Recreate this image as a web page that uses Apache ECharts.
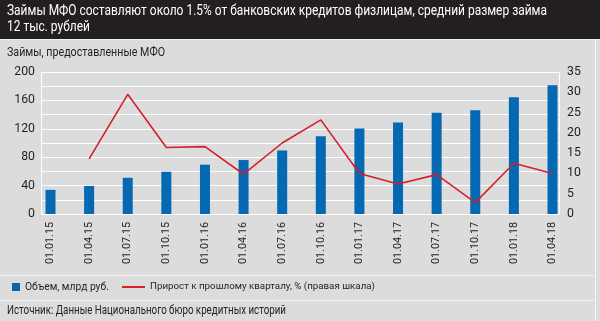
<!DOCTYPE html>
<html><head><meta charset="utf-8">
<script src="https://cdn.jsdelivr.net/npm/echarts@6/dist/echarts.min.js"></script>
<style>html,body{margin:0;padding:0;background:#dcdcdc;}#c{width:600px;height:321px;}</style>
</head><body><div id="c"></div>
<script>
const categories = ['01.01.15','01.04.15','01.07.15','01.10.15','01.01.16','01.04.16','01.07.16','01.10.16','01.01.17','01.04.17','01.07.17','01.10.17','01.01.18','01.04.18'];
const volume = [34, 39.5, 51, 59.5, 69.5, 76, 89.5, 109.5, 120.5, 129, 142.5, 146, 164.5, 181.5];
const growth = [null, 13.6, 29.5, 16.4, 16.6, 9.8, 17.5, 23.2, 10.0, 7.4, 9.7, 2.8, 12.5, 10.0];
const leftTicks = [0, 40, 80, 120, 160, 200];
const rightTicks = [0, 5, 10, 15, 20, 25, 30, 35];
const titleLine1 = 'Займы МФО составляют около 1.5% от банковских кредитов физлицам, средний размер займа';
const titleLine2 = '12 тыс. рублей';
const subtitleText = 'Займы, предоставленные МФО';
const sourceText = 'Источник: Данные Национального бюро кредитных историй';
const barName = 'Объем, млрд руб.';
const lineName = 'Прирост к прошлому кварталу, % (правая шкала)';

const FONT = "Roboto, 'Liberation Sans', sans-serif";
const TXT = '#231f20';
const mctx = document.createElement('canvas').getContext('2d');
function tw(text, size) { mctx.font = size + 'px ' + FONT; return mctx.measureText(text).width; }
const axisFs = +(13 * 42 / tw(categories[0], 13)).toFixed(2);
const legendFs1 = +(13 * 84 / tw(barName, 13)).toFixed(2);
const legendFs2 = +(13 * 225 / tw(lineName, 13)).toFixed(2);
const titleScale = 540 / tw(titleLine1, 14);
const subScale = 158 / tw(subtitleText, 13);
const srcScale = 279 / tw(sourceText, 13);

const chart = echarts.init(document.getElementById('c'), null, {renderer: 'canvas'});
const gTop = 72, gBottom = 321 - 214;
chart.setOption({
  backgroundColor: '#dcdcdc',
  animation: false,
  textStyle: {fontFamily: FONT},
  graphic: [
    {type: 'rect', shape: {x: 0, y: 0, width: 600, height: 39}, style: {fill: '#231f20'}, z: 0},
    {type: 'line', shape: {x1: 0, y1: 39.5, x2: 600, y2: 39.5}, style: {stroke: '#f2f2f2', lineWidth: 1}},
    {type: 'line', shape: {x1: 0, y1: 275.5, x2: 594, y2: 275.5}, style: {stroke: '#f4f4f4', lineWidth: 1}},
    {type: 'line', shape: {x1: 0, y1: 300.5, x2: 594, y2: 300.5}, style: {stroke: '#f4f4f4', lineWidth: 1}},
    {type: 'line', shape: {x1: 595.5, y1: 40, x2: 595.5, y2: 321}, style: {stroke: '#f4f4f4', lineWidth: 1}},
    {type: 'text', x: 7, y: 11, scaleX: titleScale, style: {text: titleLine1, fill: '#ffffff', font: '14px ' + FONT, textVerticalAlign: 'middle'}},
    {type: 'text', x: 7, y: 27, scaleX: titleScale, style: {text: titleLine2, fill: '#ffffff', font: '14px ' + FONT, textVerticalAlign: 'middle'}},
    {type: 'text', x: 7, y: 53, scaleX: subScale, style: {text: subtitleText, fill: TXT, font: '13px ' + FONT, textVerticalAlign: 'middle'}},
    {type: 'text', x: 7, y: 311, scaleX: srcScale, style: {text: sourceText, fill: TXT, font: '13px ' + FONT, textVerticalAlign: 'middle'}}
  ],
  legend: [
    {data: [{name: barName, icon: 'rect'}], left: 12, top: 282, padding: 0, itemWidth: 8, itemHeight: 8,
     textStyle: {color: TXT, fontSize: legendFs1, fontFamily: FONT}},
    {data: [{name: lineName, icon: 'rect'}], left: 122, top: 282, padding: 0, itemWidth: 23, itemHeight: 2,
     textStyle: {color: TXT, fontSize: legendFs2, fontFamily: FONT}}
  ],
  grid: [
    {left: 41, right: 41, top: gTop, bottom: gBottom},
    {left: 50.5, right: 47.5, top: gTop, bottom: gBottom}
  ],
  xAxis: [
    {gridIndex: 0, type: 'value', min: 0, max: 1, show: false},
    {gridIndex: 1, type: 'category', data: categories, boundaryGap: false,
     axisLine: {show: false}, axisTick: {show: false}, splitLine: {show: false},
     axisLabel: {rotate: 90, margin: 8, color: TXT, fontSize: axisFs, fontFamily: FONT, interval: 0}}
  ],
  yAxis: [
    {gridIndex: 0, type: 'value', min: 0, max: 200, interval: 20, position: 'left',
     axisLine: {show: true, lineStyle: {color: '#ffffff'}}, axisTick: {show: false},
     splitLine: {show: true, lineStyle: {color: '#ffffff', width: 1}},
     axisLabel: {margin: 6, color: TXT, fontSize: axisFs + 1.5, fontFamily: FONT,
       formatter: v => leftTicks.indexOf(v) >= 0 ? String(v) : ''}},
    {gridIndex: 0, type: 'value', min: 0, max: 35, interval: 5, position: 'right',
     axisLine: {show: true, lineStyle: {color: '#ffffff'}}, axisTick: {show: false},
     splitLine: {show: false},
     axisLabel: {margin: 8, color: TXT, fontSize: axisFs + 1.5, fontFamily: FONT,
       formatter: v => rightTicks.indexOf(v) >= 0 ? String(v) : ''}},
    {gridIndex: 1, type: 'value', min: 0, max: 200, show: false, splitLine: {show: false}},
    {gridIndex: 1, type: 'value', min: 0, max: 35, show: false, splitLine: {show: false}}
  ],
  series: [
    {name: barName, type: 'bar', xAxisIndex: 1, yAxisIndex: 2, data: volume, barWidth: 10,
     itemStyle: {color: '#0468b3'}},
    {name: lineName, type: 'line', xAxisIndex: 1, yAxisIndex: 3, data: growth, symbol: 'none',
     lineStyle: {color: '#d5202a', width: 1.6}, itemStyle: {color: '#d5202a'}}
  ]
});
</script></body></html>
